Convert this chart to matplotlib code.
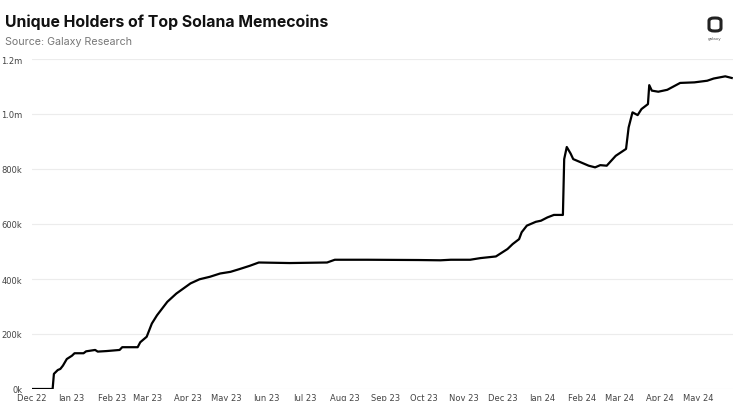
import matplotlib
matplotlib.use("Agg")
import matplotlib.pyplot as plt
import matplotlib.dates as mdates
from matplotlib.patches import FancyBboxPatch
import pandas as pd

dates = [
    "2022-12-01", "2022-12-17", "2022-12-18", "2022-12-21", "2022-12-23", "2022-12-25",
    "2022-12-28", "2023-01-01", "2023-01-03", "2023-01-10", "2023-01-12", "2023-01-19",
    "2023-01-21", "2023-01-28", "2023-02-07", "2023-02-09", "2023-02-21", "2023-02-23",
    "2023-02-28", "2023-03-04", "2023-03-08", "2023-03-16", "2023-03-23", "2023-04-03",
    "2023-04-10", "2023-04-18", "2023-04-26", "2023-05-04", "2023-05-11", "2023-05-19",
    "2023-05-26", "2023-06-19", "2023-07-18", "2023-07-24", "2023-08-18", "2023-09-27",
    "2023-10-14", "2023-10-22", "2023-11-06",
    "2023-11-14", "2023-11-26", "2023-11-29", "2023-12-05", "2023-12-09", "2023-12-14",
    "2023-12-16", "2023-12-20", "2023-12-27", "2023-12-31", "2024-01-05", "2024-01-10",
    "2024-01-17", "2024-01-18", "2024-01-20", "2024-01-23", "2024-01-25", "2024-01-31",
    "2024-02-06", "2024-02-11", "2024-02-15", "2024-02-20", "2024-02-27", "2024-03-06",
    "2024-03-08", "2024-03-11", "2024-03-15", "2024-03-18", "2024-03-23", "2024-03-24",
    "2024-03-26", "2024-03-31", "2024-04-07", "2024-04-17", "2024-04-28", "2024-05-08",
    "2024-05-13", "2024-05-22", "2024-05-27",
]
holders = [
    0, 0, 55000, 69000, 73000, 85000,
    109000, 121000, 130000, 130000, 137000, 142000,
    136000, 138000, 142000, 152000, 152000, 170000,
    190000, 238000, 268000, 317000, 347000, 384000,
    399000, 408000, 420000, 426000, 436000, 448000,
    460000, 458000, 460000, 470000, 470000, 469000,
    468000, 470000, 470000,
    476000, 482000, 491000, 509000, 527000, 545000,
    570000, 594000, 608000, 612000, 624000, 633000,
    633000, 836000, 880000, 856000, 836000, 824000,
    812000, 806000, 814000, 812000, 848000, 873000,
    951000, 1006000, 996000, 1018000, 1036000, 1105000,
    1085000, 1081000, 1088000, 1113000, 1115000, 1121000,
    1129000, 1137000, 1131000,
]
y_ticks = [0, 200000, 400000, 600000, 800000, 1000000, 1200000]
y_labels = ["0k", "200k", "400k", "600k", "800k", "1.0m", "1.2m"]
title = "Unique Holders of Top Solana Memecoins"
subtitle = "Source: Galaxy Research"

x = pd.to_datetime(dates)

fig = plt.figure(figsize=(7.5, 4.02), dpi=100)
ax = fig.add_axes([32/750, 1 - 390/402, (733 - 32)/750, (390 - 60)/402])

ax.plot(x, holders, color="black", lw=1.6, solid_joinstyle="round")

ax.set_ylim(0, 1200000)
ax.set_xlim(pd.Timestamp("2022-12-01"), pd.Timestamp("2024-05-28"))
ax.set_yticks(y_ticks)
ax.set_yticklabels(y_labels)
ax.xaxis.set_major_locator(mdates.MonthLocator())
ax.xaxis.set_major_formatter(mdates.DateFormatter("%b %y"))

for s in ax.spines.values():
    s.set_visible(False)
ax.grid(axis="y", color="#ececec", lw=0.8)
ax.set_axisbelow(True)
ax.tick_params(axis="both", length=0, labelsize=6, labelcolor="#444444")
ax.tick_params(axis="y", pad=7)
ax.tick_params(axis="x", pad=3)

fig.text(5/750, 1 - 22/402, title, fontsize=11.4, fontweight="bold", family="Inter",
         va="center", ha="left", color="#111111")
fig.text(5/750, 1 - 42/402, subtitle, fontsize=7.7, family="Inter",
         va="center", ha="left", color="#777777")

# logo
w, h = 12/750, 13/402
fig.patches.append(FancyBboxPatch((709/750, 1 - 32/402), w, h,
                                  boxstyle="round,pad=0,rounding_size=0.007",
                                  transform=fig.transFigure, fill=False,
                                  lw=2.2, ec="#222222"))
fig.text(715/750, 1 - 39/402, "galaxy", fontsize=3, ha="center", va="center",
         color="#555555")

fig.savefig("out.png", dpi=100)
